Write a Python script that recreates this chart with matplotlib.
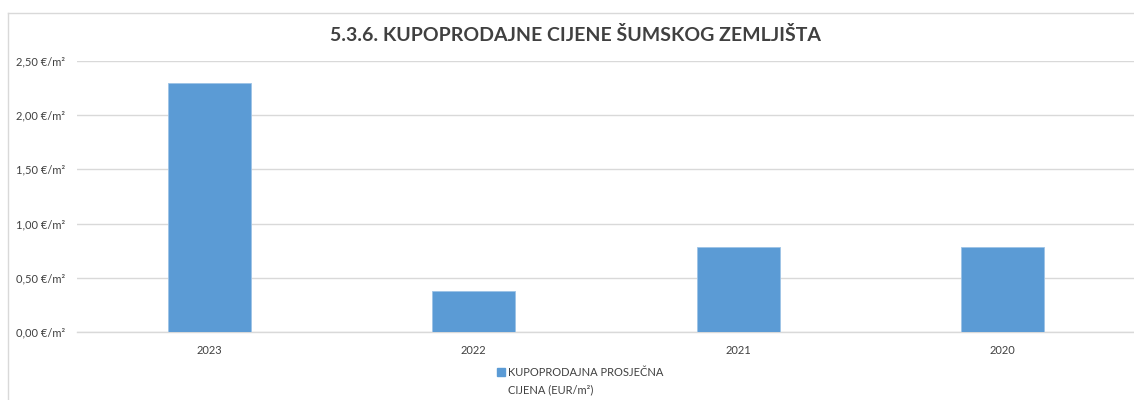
import matplotlib
matplotlib.use("Agg")
import matplotlib.pyplot as plt
from matplotlib.patches import Rectangle
from matplotlib.lines import Line2D

years = ["2023", "2022", "2021", "2020"]
prices = [2.30, 0.38, 0.78, 0.78]
yticks = [0.0, 0.5, 1.0, 1.5, 2.0, 2.5]
ytick_labels = ["0,00 €/m²", "0,50 €/m²", "1,00 €/m²", "1,50 €/m²", "2,00 €/m²", "2,50 €/m²"]
title = "5.3.6. KUPOPRODAJNE CIJENE ŠUMSKOG ZEMLJIŠTA"
legend_lines = ["KUPOPRODAJNA PROSJEČNA", "CIJENA (EUR/m²)"]

W, H = 1134, 400
plt.rcParams['font.family'] = ['Lato', 'DejaVu Sans']
fig = plt.figure(figsize=(W / 100, H / 100), dpi=100)

def fx(px):
    return px / W

def fy(py):
    return 1 - py / H

bar_color = "#5b9bd5"
text_color = "#404040"
grid_color = "#d9d9d9"

ax = fig.add_axes([fx(77), fy(332), fx(1135) - fx(77), fy(61) - fy(332)])
x = list(range(len(years)))
ax.bar(x, prices, width=0.314, color=bar_color, edgecolor="#9dc3e6", linewidth=0.6, zorder=3)
ax.set_xlim(-0.5, len(years) - 0.5)
ax.set_ylim(0, 2.5)
ax.set_yticks(yticks)
ax.set_yticklabels(ytick_labels, fontsize=8, color=text_color)
ax.set_xticks(x)
ax.set_xticklabels(years, fontsize=8, color=text_color)
ax.tick_params(axis='both', length=0)
ax.tick_params(axis='y', pad=8.5)
ax.tick_params(axis='x', pad=9)
ax.grid(axis='y', color=grid_color, linewidth=1.0, zorder=0)
for s in ['top', 'right', 'left']:
    ax.spines[s].set_visible(False)
ax.spines['bottom'].set_color(grid_color)
ax.spines['bottom'].set_linewidth(1.0)

fig.text(fx(575), fy(35), title, ha='center', va='center', fontsize=14,
         fontweight='bold', color=text_color)

# chart border (left and top)
fig.add_artist(Line2D([fx(7.5), fx(7.5)], [fy(400), fy(12.5)], color=grid_color, linewidth=1.0))
fig.add_artist(Line2D([fx(7.5), fx(1134)], [fy(12.5), fy(12.5)], color=grid_color, linewidth=1.0))

# legend
fig.add_artist(Rectangle((fx(497), fy(376)), fx(8), fy(368) - fy(376), color=bar_color,
                         transform=fig.transFigure))
fig.text(fx(508), fy(372), legend_lines[0], ha='left', va='center', fontsize=8, color=text_color)
fig.text(fx(508), fy(390), legend_lines[1], ha='left', va='center', fontsize=8, color=text_color)

fig.savefig("out.png", dpi=100, facecolor="white")
